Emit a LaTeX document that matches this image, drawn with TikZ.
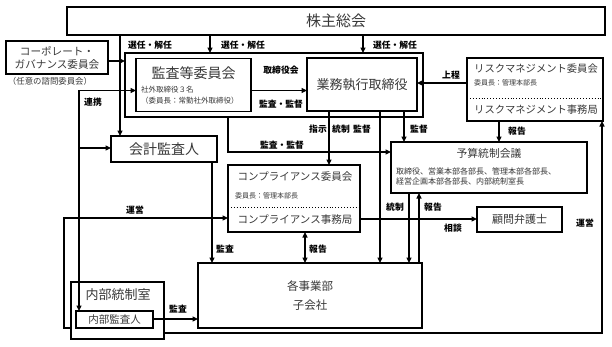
\documentclass[tikz,border=0pt]{standalone}
\usepackage{fontspec}
\setmainfont{Noto Sans CJK JP}
\usetikzlibrary{arrows.meta}
\begin{document}
\begin{tikzpicture}[x=1pt,y=-1pt,
  >={Triangle[length=5.5pt,width=5pt]},
  box/.style={draw, line width=1.2pt, rectangle, inner sep=0pt, outer sep=0pt, text=black!78},
  conn/.style={line width=1.1pt, ->},
  lbl/.style={font=\bfseries\fontsize{8.8}{9}\selectfont, inner sep=0.5pt},
  txt/.style={text=black!78, inner sep=0pt},
  sep/.style={dotted, line width=0.9pt}
]
\useasboundingbox (0,0) rectangle (612,346);
\fill[white] (0,0) rectangle (612,346);

% ---------- boxes ----------
\node[box, minimum width=538pt, minimum height=28pt, font=\fontsize{15}{15}\selectfont] (sh) at (336,21) {株主総会};
\node[box, line width=2.6pt, minimum width=298pt, minimum height=64pt] (board) at (274,85) {};
\node[box, minimum width=115pt, minimum height=53pt] (kansa) at (193.5,85) {};
\node[txt, font=\fontsize{14}{14}\selectfont] (kansaT) at (193.5,73) {監査等委員会};
\node[txt, font=\fontsize{7.5}{11}\selectfont, align=left, anchor=west] (kansaS) at (141,95.5) {社外取締役３名\\（委員長：常勤社外取締役）};
\node[box, minimum width=110pt, minimum height=53pt, font=\fontsize{13}{13}\selectfont] (gyomu) at (362,84.5) {業務執行取締役};

\node[box, minimum width=102pt, minimum height=33pt, font=\fontsize{10.6}{13}\selectfont, align=center] (cg) at (57,57.5) {コーポレート・\\ガバナンス委員会};
\node[txt, font=\fontsize{8.4}{9}\selectfont] (cgN) at (50,81.5) {（任意の諮問委員会）};

\node[box, minimum width=106pt, minimum height=26pt, font=\fontsize{14}{14}\selectfont] (kaikei) at (164,149) {会計監査人};

\node[box, minimum width=132pt, minimum height=67pt] (comp) at (294,198.5) {};
\node[txt, font=\fontsize{10.5}{11}\selectfont] (compT) at (295,177) {コンプライアンス委員会};
\node[txt, font=\fontsize{7}{8}\selectfont, anchor=west] (compS) at (235,196) {委員長：管理本部長};
\draw[sep] (comp.west |- 0,207) coordinate (compL) -- (comp.east |- compL);
\node[txt, font=\fontsize{10.5}{11}\selectfont] (compB) at (295,219.5) {コンプライアンス事務局};

\node[box, minimum width=196pt, minimum height=51pt] (yosan) at (489,167.5) {};
\node[txt, font=\fontsize{10.8}{11}\selectfont] (yosanT) at (489,153) {予算統制会議};
\node[txt, font=\fontsize{8}{9.5}\selectfont, align=left, anchor=west] (yosanS) at (396,176.5) {取締役、営業本部各部長、管理本部各部長、\\経営企画本部各部長、内部統制室長};

\node[box, minimum width=85pt, minimum height=25pt, font=\fontsize{11}{11}\selectfont] (komon) at (519.5,219.5) {顧問弁護士};

\node[box, minimum width=136pt, minimum height=63pt] (risk) at (535,89.5) {};
\node[txt, font=\fontsize{10.3}{11}\selectfont] (riskT) at (536,69) {リスクマネジメント委員会};
\node[txt, font=\fontsize{7}{8}\selectfont, anchor=west] (riskS) at (474,83) {委員長：管理本部長};
\draw[sep] (risk.west |- 0,98) coordinate (riskL) -- (risk.east |- riskL);
\node[txt, font=\fontsize{10.3}{11}\selectfont] (riskB) at (536,109.5) {リスクマネジメント事務局};

\node[box, minimum width=224pt, minimum height=65pt, font=\fontsize{11.5}{19}\selectfont, align=center] (jigyo) at (310,295.5) {各事業部\\子会社};

\node[box, minimum width=93pt, minimum height=57pt] (naibu) at (117.5,310.5) {};
\node[txt, font=\fontsize{13}{13}\selectfont] (naibuT) at (118,295) {内部統制室};
\node[box, minimum width=77pt, minimum height=17pt, font=\fontsize{10.5}{11}\selectfont] (naibukansa) at (114.5,319.5) {内部監査人};

% ---------- guide coordinates ----------
\coordinate (cA) at (120,0);
\coordinate (cB) at (210,0);
\coordinate (cC) at (363,0);
\coordinate (cD) at (79,0);
\coordinate (cE) at (228,0);
\coordinate (cF) at (329,0);
\coordinate (cG) at (380,0);
\coordinate (cH) at (404,0);
\coordinate (cI) at (499,0);
\coordinate (cJ) at (212,0);
\coordinate (cK) at (305,0);
\coordinate (cL) at (409,0);
\coordinate (cM) at (419,0);
\coordinate (cN) at (602,0);
\coordinate (cO) at (64,0);
\coordinate (rA) at (0,61);
\coordinate (rB) at (0,90.5);
\coordinate (rC) at (0,148);
\coordinate (rD) at (0,83);
\coordinate (rE) at (0,152);
\coordinate (rF) at (0,218);
\coordinate (rG) at (0,219);
\coordinate (rH) at (0,328);
\coordinate (rI) at (0,333);
\coordinate (rJ) at (0,319);

% ---------- connectors ----------
\draw[conn] (sh.south -| cB) -- (board.north -| cB);
\draw[conn] (sh.south -| cC) -- (board.north -| cC);
\draw[conn] (sh.south -| cA) -- (kaikei.north -| cA);
\draw[conn] (cg.east |- rA) -- (board.west |- rA);
\draw[conn, <->] (kansa.west |- rB) -- (cD |- rB) -- (naibukansa.north -| cD);
\draw[conn] (cD |- rC) -- (kaikei.west |- rC);
\draw[conn] (kansa.east |- rB) -- (gyomu.west |- rB);
\draw[conn] (risk.west |- rD) -- (gyomu.east |- rD);
\draw[conn] (risk.south -| cI) -- (yosan.north -| cI);
\draw[conn] (gyomu.south -| cF) -- (comp.north -| cF);
\draw[conn] (gyomu.south -| cG) -- (jigyo.north -| cG);
\draw[conn] (gyomu.south -| cH) -- (yosan.north -| cH);
\draw[conn] (board.south -| cE) -- (cE |- rE) -- (yosan.west |- rE);
\draw[conn] (kaikei.south -| cJ) -- (jigyo.north -| cJ);
\draw[conn] (naibu.west |- rH) -- (cO |- rH) -- (cO |- rF) -- (comp.west |- rF);
\draw[conn] (comp.east |- rG) -- (komon.west |- rG);
\draw[conn, <->] (comp.south -| cK) -- (jigyo.north -| cK);
\draw[conn] (yosan.south -| cL) -- (jigyo.north -| cL);
\draw[conn] (jigyo.north -| cM) -- (yosan.south -| cM);
\draw[conn] (naibu.east |- rI) -- (cN |- rI) -- (risk.south -| cN);
\draw[conn] (naibukansa.east |- rJ) -- (jigyo.west |- rJ);

% ---------- labels ----------
\node[lbl] (l1) at (150,45) {選任・解任};
\node[lbl] (l2) at (243,45) {選任・解任};
\node[lbl] (l3) at (395,45) {選任・解任};
\node[lbl] (l4) at (93,102) {連携};
\node[lbl] (l5) at (281,70) {取締役会};
\node[lbl] (l6) at (281,104) {監査・監督};
\node[lbl] (l7) at (451,75) {上程};
\node[lbl] (l8) at (517,131) {報告};
\node[lbl] (l9) at (318,129) {指示};
\node[lbl] (l10) at (341,129) {統制};
\node[lbl] (l11) at (362,129) {監督};
\node[lbl] (l12) at (419,129) {監督};
\node[lbl] (l13) at (282,145) {監査・監督};
\node[lbl] (l14) at (135,210) {運営};
\node[lbl] (l15) at (225,249) {監査};
\node[lbl] (l16) at (318,249) {報告};
\node[lbl] (l17) at (395,207) {統制};
\node[lbl] (l18) at (433,207) {報告};
\node[lbl] (l19) at (453,228) {相談};
\node[lbl] (l20) at (585,223) {運営};
\node[lbl] (l21) at (178,309) {監査};
\end{tikzpicture}
\end{document}
